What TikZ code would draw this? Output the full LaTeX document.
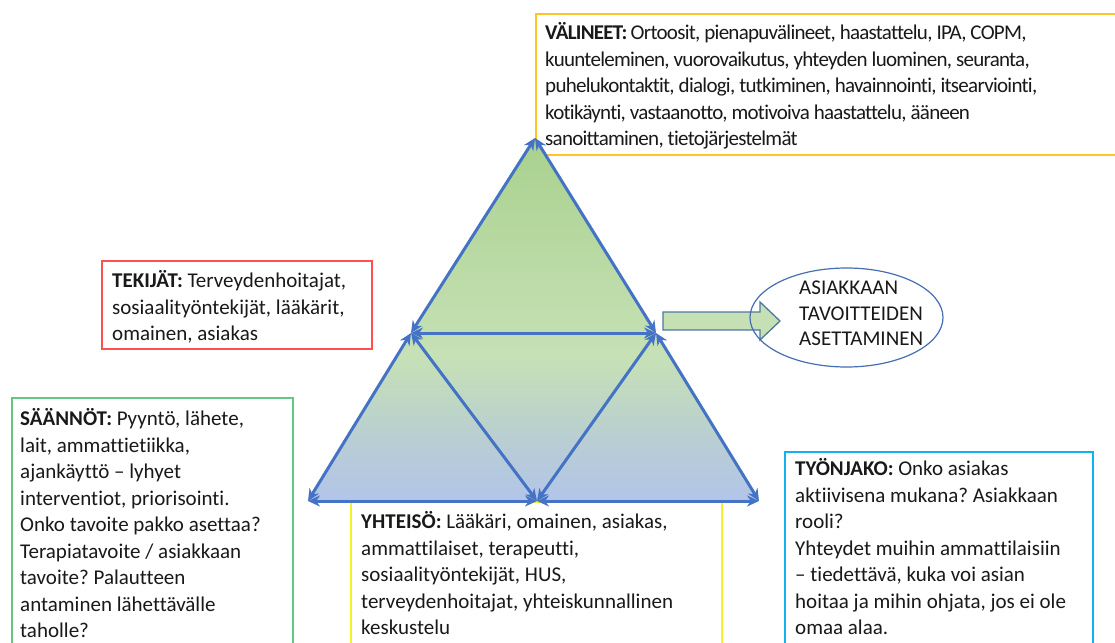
\documentclass[tikz,border=0pt]{standalone}
\usepackage{fontspec}
\setmainfont{Carlito}[Ligatures={NoCommon}]
\usetikzlibrary{arrows.meta,shapes.geometric}
\definecolor{edge}{RGB}{68,114,196}
\definecolor{topgreen}{RGB}{169,209,142}
\definecolor{midgreen}{RGB}{198,225,182}
\definecolor{blendB}{RGB}{192,217,193}
\definecolor{blendA}{RGB}{184,205,212}
\definecolor{botblue}{RGB}{178,197,233}
\definecolor{arrowfill}{RGB}{197,224,180}
\definecolor{arrowline}{RGB}{80,120,160}
\definecolor{gold}{RGB}{255,196,40}
\definecolor{redline}{RGB}{255,80,80}
\definecolor{greenline}{RGB}{100,200,130}
\definecolor{yellowline}{RGB}{245,240,40}
\definecolor{cyanline}{RGB}{20,176,240}
\definecolor{ink}{RGB}{25,25,25}
\definecolor{ellipseline}{RGB}{70,110,180}
% green at the apex, pale green in the middle, blue along the base
\pgfdeclareverticalshading{triangleshade}{100bp}{color(0bp)=(botblue); color(25bp)=(botblue);
  color(33bp)=(blendA); color(40bp)=(blendB); color(45bp)=(midgreen);
  color(75bp)=(topgreen); color(100bp)=(topgreen)}
\frenchspacing
\begin{document}
\begin{tikzpicture}[x=1pt,y=-1pt,
  link/.style={edge, line width=3pt, line cap=round,
    {Stealth[length=12pt,width=11pt]}-{Stealth[length=12pt,width=11pt]}},
  framebox/.style={line width=1.5pt},
  txt/.style={anchor=north west, inner sep=0pt, align=left, text=ink,
    font=\fontsize{21}{26.5}\selectfont},
  goaltxt/.style={anchor=north west, inner sep=0pt, align=left, text=ink,
    font=\fontsize{21}{25.5}\selectfont}]
\useasboundingbox (0,0) rectangle (1115,642);
\fill[white] (0,0) rectangle (1115,642);

% text frames
\draw[framebox, gold] (536,14) rectangle (1125,155);
\draw[framebox, redline] (102,261) rectangle (372,349);
\draw[framebox, greenline] (12,398) rectangle (293,660);
\draw[framebox, yellowline] (351,502) rectangle (722,660);
\draw[framebox, cyanline] (785,452) rectangle (1093,660);

% corners of the activity triangle
\coordinate (T) at (535,138);
\coordinate (L) at (308,501);
\coordinate (R) at (759,501);
\coordinate (M) at (537,501);
\coordinate (SL) at (411,333);
\coordinate (SR) at (656,333);

\shade[shading=triangleshade] (T) -- (L) -- (R) -- cycle;

\draw[link] (T) -- (SL);
\draw[link] (T) -- (SR);
\draw[link] (SL) -- (SR);
\draw[link] (SL) -- (L);
\draw[link] (SL) -- (M);
\draw[link] (SR) -- (M);
\draw[link] (SR) -- (R);
\draw[link] (L) -- (M);
\draw[link] (M) -- (R);

% outcome
\draw[fill=arrowfill, draw=arrowline, line width=1.3pt, line join=miter]
  (663,312) -- (760,312) -- (760,302) -- (780,321) -- (760,340) -- (760,330) -- (663,330) -- cycle;
\node[ellipse, draw=ellipseline, line width=1.2pt, minimum width=193pt, minimum height=99pt, inner sep=0pt]
  (goal) at (846.5,317.5) {};
\node[goaltxt] (goaltext) at (799,281) {ASIAKKAAN\\TAVOITTEIDEN\\ASETTAMINEN};

% texts
\node[txt, font=\fontsize{21}{26.5}\selectfont\addfontfeatures{LetterSpace=-3.5}] (valineet) at (545,22.5)
{\textbf{VÄLINEET:} Ortoosit, pienapuvälineet, haastattelu, IPA, COPM,\\
kuunteleminen, vuorovaikutus, yhteyden luominen, seuranta,\\
puhelukontaktit, dialogi, tutkiminen, havainnointi, itsearviointi,\\
kotikäynti, vastaanotto, motivoiva haastattelu, ääneen\\
sanoittaminen, tietojärjestelmät};

\node[txt] (tekijat) at (112,270.5) {\textbf{TEKIJÄT:} Terveydenhoitajat,\\
sosiaalityöntekijät, lääkärit,\\
omainen, asiakas};

\node[txt] (saannot) at (20,408.5) {\textbf{SÄÄNNÖT:} Pyyntö, lähete,\\
lait, ammattietiikka,\\
ajankäyttö – lyhyet\\
interventiot, priorisointi.\\
Onko tavoite pakko asettaa?\\
Terapiatavoite / asiakkaan\\
tavoite? Palautteen\\
antaminen lähettävälle\\
taholle?};

\node[txt] (yhteiso) at (361,511.5) {\textbf{YHTEISÖ:} Lääkäri, omainen, asiakas,\\
ammattilaiset, terapeutti,\\
sosiaalityöntekijät, HUS,\\
terveydenhoitajat, yhteiskunnallinen\\
keskustelu};

\node[txt] (tyonjako) at (795,458.5) {\textbf{TYÖNJAKO:} Onko asiakas\\
aktiivisena mukana? Asiakkaan\\
rooli?\\
Yhteydet muihin ammattilaisiin\\
– tiedettävä, kuka voi asian\\
hoitaa ja mihin ohjata, jos ei ole\\
omaa alaa.};
\end{tikzpicture}
\end{document}
